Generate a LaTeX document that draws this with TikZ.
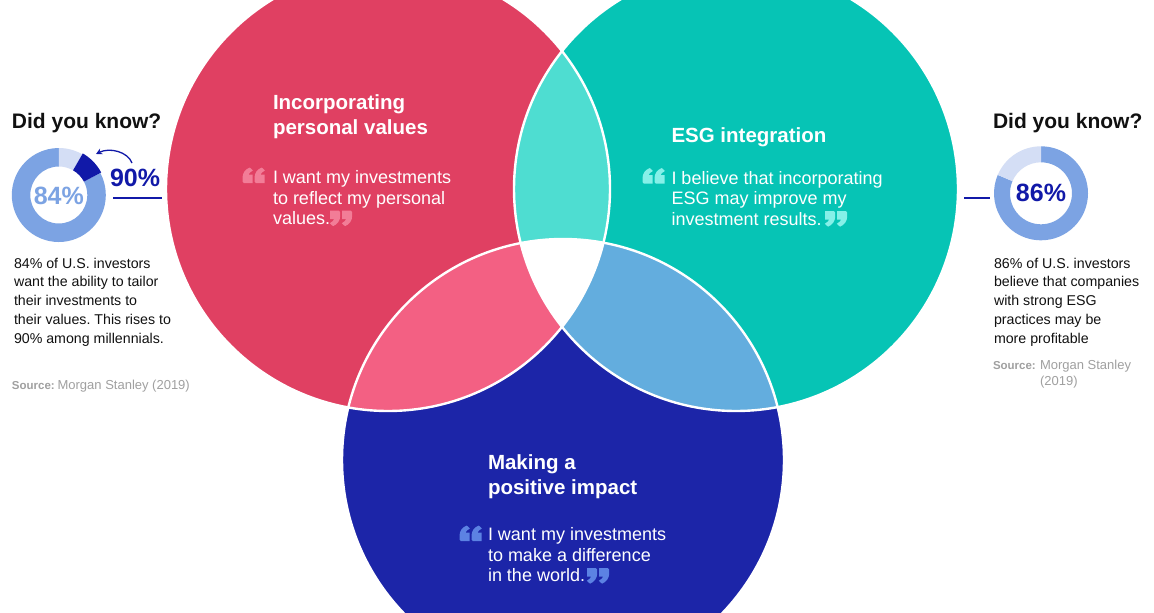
\documentclass[tikz,border=0pt]{standalone}
\usepackage{fontspec}
\setmainfont{Liberation Sans}
\frenchspacing
\usetikzlibrary{arrows.meta}
\definecolor{cred}{HTML}{E04062}
\definecolor{cteal}{HTML}{06C4B5}
\definecolor{cblue}{HTML}{1C25A8}
\definecolor{lteal}{HTML}{4EDDD1}
\definecolor{cpink}{HTML}{F36083}
\definecolor{lblue}{HTML}{63ADDE}
\definecolor{qred}{HTML}{F27D97}
\definecolor{qteal}{HTML}{86F0E8}
\definecolor{qblue}{HTML}{5C82E3}
\definecolor{ring}{HTML}{7CA3E3}
\definecolor{pale}{HTML}{D4DEF5}
\definecolor{dblue}{HTML}{1119A8}
\definecolor{ink}{HTML}{111111}
\definecolor{srcgray}{HTML}{A0A0A0}
\tikzset{
  txt/.style={inner sep=0pt, outer sep=0pt},
  title/.style={txt, text=white, align=left, font=\bfseries\fontsize{20.5}{25.5}\selectfont},
  quote/.style={txt, text=white, align=left, font=\fontsize{18}{20.6}\selectfont},
  para/.style={txt, text=ink, align=left, font=\fontsize{14.2}{18.7}\selectfont},
  dyk/.style={txt, text=ink, font=\bfseries\fontsize{21}{21}\selectfont},
  pct/.style={txt, font=\bfseries\fontsize{25}{25}\selectfont},
  qopen/.pic={
    \foreach \dx in {0,12}{
      \fill[#1, shift={(\dx,0)}, yscale=1.12] (7.2,0) -- (10.4,2.6) .. controls (7.8,4) and (6.4,5.2) .. (6,6.4)
        -- (10.2,6.4) -- (10.2,14) -- (1.4,14) .. controls (0.5,14) and (0,13.5) .. (0,12.6)
        -- (0,9.2) .. controls (0,4.6) and (3,1.6) .. (7.2,0) -- cycle;}
  },
  qclose/.pic={
    \foreach \dx in {0,12}{
      \fill[#1, shift={(\dx,0)}, yscale=1.12, rotate around={180:(5.1,7)}] (7.2,0) -- (10.4,2.6) .. controls (7.8,4) and (6.4,5.2) .. (6,6.4)
        -- (10.2,6.4) -- (10.2,14) -- (1.4,14) .. controls (0.5,14) and (0,13.5) .. (0,12.6)
        -- (0,9.2) .. controls (0,4.6) and (3,1.6) .. (7.2,0) -- cycle;}
  }
}
\begin{document}
\begin{tikzpicture}[x=1pt,y=-1pt]
\fill[white] (0,0) rectangle (1154,613);
\useasboundingbox (0,0) rectangle (1154,613);
\begin{scope}
  \clip (0,0) rectangle (1154,613);
  % circles
  \fill[cred]  (388,189) circle[radius=222];
  \fill[cteal] (736,189) circle[radius=222];
  \fill[cblue] (563,460) circle[radius=221];
  % lenses
  \begin{scope}
    \clip (388,189) circle[radius=222];
    \fill[lteal] (736,189) circle[radius=222];
    \fill[cpink] (563,460) circle[radius=221];
  \end{scope}
  \begin{scope}
    \clip (736,189) circle[radius=222];
    \fill[lblue] (563,460) circle[radius=221];
  \end{scope}
  \begin{scope}
    \clip (388,189) circle[radius=222];
    \clip (736,189) circle[radius=222];
    \fill[white] (563,460) circle[radius=221];
  \end{scope}
  \draw[white, line width=2.4] (388,189) circle[radius=222];
  \draw[white, line width=2.4] (736,189) circle[radius=222];
  \draw[white, line width=2.4] (563,460) circle[radius=221];
\end{scope}

% circle texts
\node[title, anchor=north west] (t1) at (273,94.5) {Incorporating\\personal values};
\node[quote, anchor=north west] (q1) at (273,170.5) {I want my investments\\to reflect my personal\\values.};
\pic at (242.5,167.5) {qopen=qred};
\pic at (330,210.5) {qclose=qred};

\node[title, anchor=base west] (t2) at (671.5,142) {ESG integration};
\node[quote, anchor=north west] (q2) at (671.5,171) {I believe that incorporating\\ESG may improve my\\investment results.};
\pic at (642.5,168) {qopen=qteal};
\pic at (825,211) {qclose=qteal};

\node[title, anchor=north west] (t3) at (488,454.5) {Making a\\positive impact};
\node[quote, anchor=north west] (q3) at (488,527.7) {I want my investments\\to make a difference\\in the world.};
\pic at (459.5,525.5) {qopen=qblue};
\pic at (587,568) {qclose=qblue};

% left panel
\node[dyk, anchor=base west] (dyk1) at (12,128) {Did you know?};
\begin{scope}[shift={(58.8,195)}]
  \fill[ring] (-28:47) arc[start angle=-28, end angle=270, radius=47] -- (270:28.5) arc[start angle=270, end angle=-28, radius=28.5] -- cycle;
  \fill[pale] (-90:47) arc[start angle=-90, end angle=-60, radius=47] -- (-60:28.5) arc[start angle=-60, end angle=-90, radius=28.5] -- cycle;
  \fill[dblue] (-60:48) arc[start angle=-60, end angle=-28, radius=48] -- (-28:28.5) arc[start angle=-28, end angle=-60, radius=28.5] -- cycle;
\end{scope}
\node[pct, text=ring, anchor=base] (p84) at (58.8,204) {84\%};
\node[pct, text=dblue, anchor=base west] (p90) at (110,186.7) {90\%};
\coordinate (arrS) at (132,163);
\coordinate (arrE) at (96,154);
\draw[dblue, line width=1.3, -{Stealth[length=6,width=6]}] (arrS) .. controls (128,152) and (110,147) .. (arrE);
\coordinate (lnLa) at (113,198);
\coordinate (lnLb) at (162,198);
\draw[dblue, line width=1.5] (lnLa) -- (lnLb);
\node[para, anchor=north west] (para1) at (14,258) {84\% of U.S. investors\\want the ability to tailor\\their investments to\\their values. This rises to\\90\% among millennials.};
\node[txt, anchor=base west, text=srcgray] (src1) at (12,389) {{\bfseries\fontsize{11.5}{13}\selectfont Source:} {\fontsize{13}{15}\selectfont Morgan Stanley (2019)}};

% right panel
\node[dyk, anchor=base west] (dyk2) at (993,128) {Did you know?};
\begin{scope}[shift={(1041,193.3)}]
  \fill[ring] (-90:47) arc[start angle=-90, end angle=203, radius=47] -- (203:31) arc[start angle=203, end angle=-90, radius=31] -- cycle;
  \fill[pale] (203:47) arc[start angle=203, end angle=270, radius=47] -- (270:31) arc[start angle=270, end angle=203, radius=31] -- cycle;
\end{scope}
\node[pct, text=dblue, anchor=base] (p86) at (1041,201.7) {86\%};
\coordinate (lnRa) at (964,198);
\coordinate (lnRb) at (990,198);
\draw[dblue, line width=1.5] (lnRa) -- (lnRb);
\node[para, anchor=north west] (para2) at (994,258) {86\% of U.S. investors\\believe that companies\\with strong ESG\\practices may be\\more profitable};
\node[txt, anchor=base west, text=srcgray, font=\bfseries\fontsize{11.5}{13}\selectfont] (src2a) at (993,369.3) {Source:};
\node[txt, anchor=north west, text=srcgray, align=left, font=\fontsize{13}{15.7}\selectfont] (src2b) at (1040,360) {Morgan Stanley\\(2019)};
\end{tikzpicture}
\end{document}
